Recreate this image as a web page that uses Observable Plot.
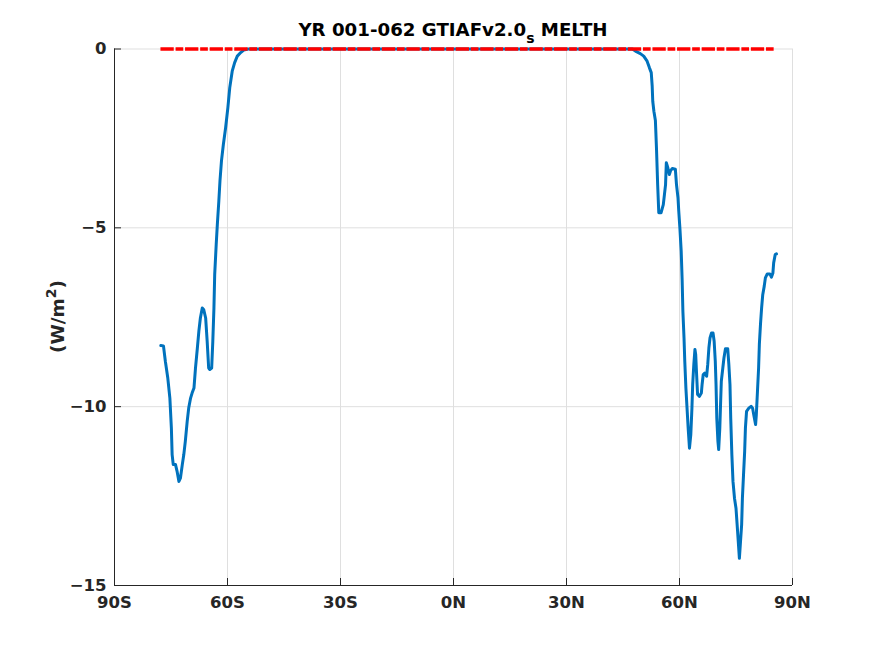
<!DOCTYPE html>
<html><head><meta charset="utf-8">
<script src="https://cdn.jsdelivr.net/npm/d3@7"></script>
<script src="https://cdn.jsdelivr.net/npm/@observablehq/plot@0.6"></script>
<style>body{margin:0;background:#fff}</style>
</head><body><div id="chart"></div>
<script>
const lat = [-77.7,-77.0,-76.5,-75.85,-75.3,-74.9,-74.7,-74.4,-73.8,-73.4,-72.9,-72.5,-72.0,-71.6,-71.2,-70.7,-70.3,-69.8,-69.4,-68.9,-68.5,-68.0,-67.6,-67.2,-66.7,-66.3,-65.8,-65.4,-65.0,-64.7,-64.2,-63.9,-63.6,-63.4,-63.0,-62.7,-62.3,-62.0,-61.6,-61.1,-60.5,-59.9,-59.4,-58.75,-58.1,-57.4,-56.5,-55.7,-54.5,-40,-20,0,20,40,47.5,48.3,49.6,50.5,51.4,52.0,52.5,52.75,52.9,53.2,53.6,53.9,54.2,54.5,55.1,55.7,56.0,56.3,56.5,56.9,57.3,57.6,58.1,58.9,59.2,59.6,59.8,60.1,60.45,60.7,60.9,61.2,61.4,61.7,62.0,62.3,62.65,63.0,63.3,63.5,63.8,64.1,64.3,64.5,64.8,65.3,65.8,66.0,66.3,66.7,67.2,67.5,67.8,68.1,68.5,68.9,69.2,69.5,69.7,69.9,70.2,70.4,70.7,70.9,71.1,71.5,71.8,72.2,72.8,73.1,73.4,73.6,73.9,74.2,74.6,75.0,75.3,75.6,75.9,76.2,76.5,76.7,77.0,77.3,77.5,77.8,78.4,79.0,79.4,79.7,80.2,80.4,80.7,81.0,81.2,81.5,81.8,82.1,82.5,82.8,83.3,84.0,84.4,84.8,85.0,85.4,85.75];
const melth = [-8.29,-8.30,-8.73,-9.2,-9.76,-10.6,-11.34,-11.62,-11.62,-11.8,-12.09,-12.0,-11.62,-11.34,-10.97,-10.41,-10.04,-9.76,-9.62,-9.48,-8.92,-8.36,-7.89,-7.52,-7.24,-7.29,-7.52,-8.17,-8.92,-8.96,-8.92,-8.17,-7.24,-6.31,-5.47,-4.91,-4.25,-3.69,-3.13,-2.67,-2.2,-1.64,-1.08,-0.62,-0.38,-0.2,-0.1,-0.03,0,0,0,0,0,0,0,-0.06,-0.13,-0.2,-0.34,-0.52,-0.66,-1.04,-1.46,-1.74,-2.0,-2.81,-3.79,-4.58,-4.58,-4.35,-4.07,-3.79,-3.18,-3.32,-3.51,-3.41,-3.34,-3.36,-3.79,-4.16,-4.53,-5.0,-5.65,-6.45,-7.33,-8.08,-8.73,-9.48,-10.04,-10.6,-11.16,-10.78,-10.04,-9.38,-8.82,-8.4,-8.54,-9.01,-9.66,-9.71,-9.62,-9.38,-9.1,-9.06,-9.15,-8.82,-8.36,-8.08,-7.94,-7.94,-8.17,-8.73,-9.38,-10.32,-10.97,-11.2,-10.6,-9.94,-9.29,-8.92,-8.64,-8.38,-8.38,-8.82,-9.38,-10.32,-11.34,-12.09,-12.56,-12.84,-13.3,-13.77,-14.24,-13.77,-13.3,-12.56,-11.9,-11.25,-10.6,-10.13,-10.04,-9.99,-10.04,-10.22,-10.5,-10.22,-9.57,-8.92,-8.26,-7.7,-7.24,-6.87,-6.63,-6.4,-6.29,-6.29,-6.38,-6.26,-5.98,-5.75,-5.73];
const zeroLat = [-77.8, 85.4];
const zeroVal = [0, 0];
const xTicks = [-90, -60, -30, 0, 30, 60, 90];
const xTickLabels = ["90S", "60S", "30S", "0N", "30N", "60N", "90N"];
const yTicks = [0, -5, -10, -15];
const titleMain = "YR 001-062 GTIAFv2.0";
const titleSub = "s";
const titleEnd = " MELTH";
const yLabelMain = "(W/m";
const yLabelSup = "2";
const yLabelEnd = ")";

const blue = lat.map((x, i) => ({lat: x, v: melth[i]}));
const red = zeroLat.map((x, i) => ({lat: x, v: zeroVal[i]}));
const ink = "#262626";

const plot = Plot.plot({
  width: 875, height: 656,
  marginLeft: 114, marginRight: 83, marginTop: 48.5, marginBottom: 71,
  style: {fontFamily: "DejaVu Sans", fontWeight: "bold", fontSize: "16.5px", color: ink, background: "#fff", overflow: "visible"},
  x: {domain: [-90, 90]},
  y: {domain: [-15, 0]},
  marks: [
    Plot.gridX(xTicks, {stroke: "#dfdfdf", strokeOpacity: 1}),
    Plot.gridY(yTicks, {stroke: "#dfdfdf", strokeOpacity: 1}),
    Plot.line(blue, {x: "lat", y: "v", stroke: "#0072bd", strokeWidth: 3}),
    Plot.line(red, {x: "lat", y: "v", stroke: "#ff0000", strokeWidth: 3.3, strokeLinecap: "butt", strokeDasharray: "13.3,1.8,7.7,1.8"}),
    Plot.axisX(xTicks, {tickFormat: d => xTickLabels[xTicks.indexOf(d)], tickSize: -7, tickPadding: 18, label: null, stroke: ink, fill: ink}),
    Plot.axisY(yTicks, {tickSize: -7, tickPadding: 15, label: null, stroke: ink, fill: ink}),
    Plot.ruleX([-90], {stroke: ink}),
    Plot.ruleY([-15], {stroke: ink})
  ]
});
document.getElementById("chart").appendChild(plot);

const svg = d3.select(plot);
const t = svg.append("text")
  .attr("x", 453).attr("y", 35.5)
  .attr("text-anchor", "middle")
  .attr("fill", "#000")
  .style("font-family", "DejaVu Sans").style("font-weight", "bold").style("font-size", "18.2px");
t.append("tspan").text(titleMain);
t.append("tspan").attr("dy", 7).style("font-size", "14px").text(titleSub);
t.append("tspan").attr("dy", -7).text(titleEnd);

const yl = svg.append("text")
  .attr("transform", "translate(64,316.5) rotate(-90)")
  .attr("text-anchor", "middle")
  .attr("fill", ink)
  .style("font-family", "DejaVu Sans").style("font-weight", "bold").style("font-size", "18.5px");
yl.append("tspan").text(yLabelMain);
yl.append("tspan").attr("dy", -8).style("font-size", "14px").text(yLabelSup);
yl.append("tspan").attr("dy", 8).text(yLabelEnd);
</script>
</body></html>
